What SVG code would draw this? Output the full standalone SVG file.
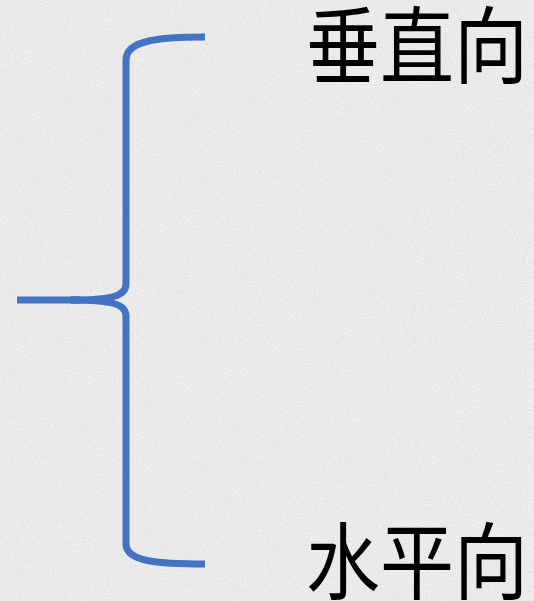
<svg xmlns="http://www.w3.org/2000/svg" width="534" height="601" viewBox="0 0 534 601">
<defs>
<filter id="noise" x="0" y="0" width="100%" height="100%">
<feTurbulence type="fractalNoise" baseFrequency="0.9" numOctaves="2" seed="3" result="n"/>
<feColorMatrix type="matrix" values="0 0 0 0 1  0 0 0 0 1  0 0 0 0 1  0 0 0 -1.6 1.2" in="n" result="w"/>
<feComposite in="w" in2="SourceGraphic" operator="in"/>
</filter>
<style>
.br{fill:none;stroke:#4472C4;stroke-width:7;stroke-linecap:butt;stroke-linejoin:round}
.lbl{font-family:"Noto Sans CJK SC","Noto Sans CJK JP",sans-serif;font-size:74px;fill:#000}
</style>
</defs>
<rect width="534" height="601" fill="#e2e2e2"/>
<rect width="534" height="601" fill="#e2e2e2" filter="url(#noise)" opacity="0.7"/>
<g id="connectors">
<path class="br" d="M205,37 C160,37 126,40 126,60 L126,284 C126,296 112,300 70,300"/>
<path class="br" d="M205,564 C160,564 126,562 126,544 L126,316 C126,304 112,300 70,300"/>
<path class="br" d="M17,300 L80,300"/>
</g>
<g id="node-vertical"><text class="lbl" transform="translate(306,77) scale(1,1.13)">垂直向</text></g>
<g id="node-horizontal"><text class="lbl" transform="translate(306,593) scale(1,1.13)">水平向</text></g>
</svg>
